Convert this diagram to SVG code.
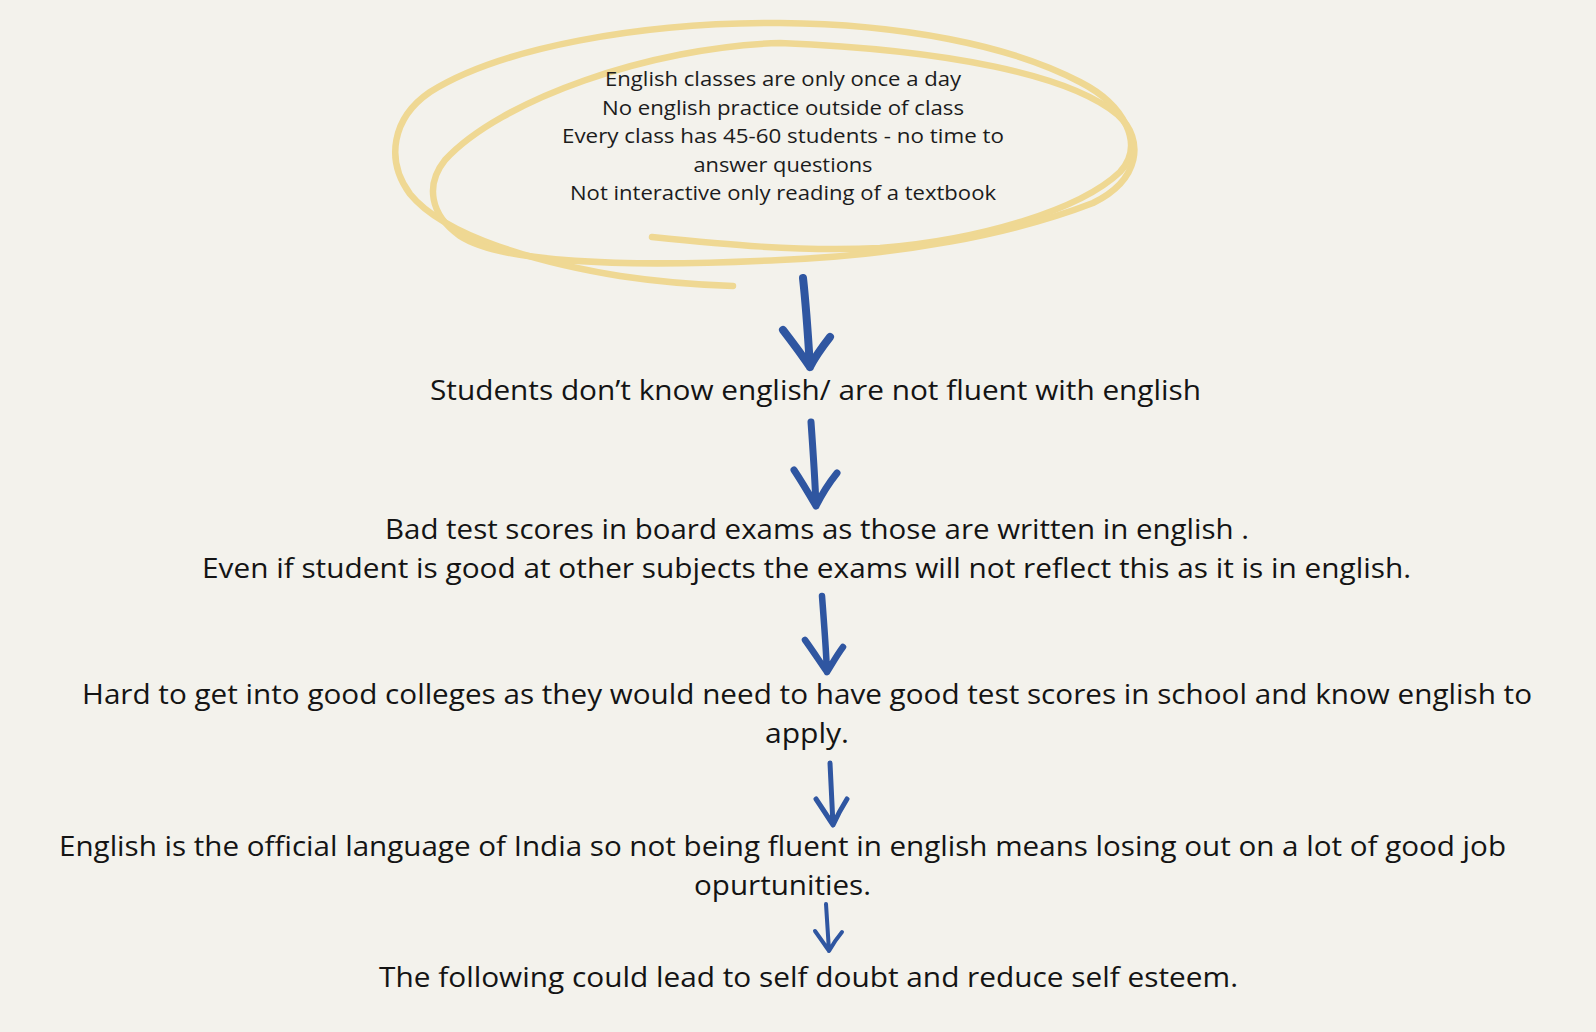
<svg xmlns="http://www.w3.org/2000/svg" width="1596" height="1032" viewBox="0 0 1596 1032">
<defs>
<style>
.bg{fill:#f3f2ec}
.loop{fill:none;stroke:#efd893;stroke-width:6.5;stroke-linecap:round;stroke-linejoin:round}
.arrow{fill:none;stroke:#2f56a1;stroke-linecap:round;stroke-linejoin:round}
.small{font-family:"Open Sans","Noto Sans","Liberation Sans",sans-serif;font-size:20px;fill:#1c1c1c;text-anchor:middle}
.big{font-family:"Open Sans","Noto Sans","Liberation Sans",sans-serif;font-size:27px;fill:#141414;text-anchor:middle}
</style>
</defs>
<rect class="bg" x="0" y="0" width="1596" height="1032"/>
<g id="node-causes">
<path class="loop" d="M652,237 C720,244 800,252 880,248 C980,240 1080,210 1120,172 C1145,145 1125,105 1080,82 C1010,45 900,24 780,23 C640,22 500,48 430,92 C392,118 385,160 410,194 C445,237 540,263 620,276 C660,282 700,285 733,286"/>
<path class="loop" d="M780,43 C650,47 500,100 445,160 C425,185 430,215 460,236 C500,262 620,268 780,260 C900,255 1010,235 1093,203 C1140,180 1145,140 1118,115 C1070,75 950,50 780,43 Z"/>
<text class="small" x="783" y="86" textLength="356" lengthAdjust="spacingAndGlyphs">English classes are only once a day</text>
<text class="small" x="783" y="114.5" textLength="362" lengthAdjust="spacingAndGlyphs">No english practice outside of class</text>
<text class="small" x="783" y="143" textLength="442" lengthAdjust="spacingAndGlyphs">Every class has 45-60 students - no time to</text>
<text class="small" x="783" y="171.5" textLength="179" lengthAdjust="spacingAndGlyphs">answer questions</text>
<text class="small" x="783" y="200" textLength="426" lengthAdjust="spacingAndGlyphs">Not interactive only reading of a textbook</text>
</g>
<g id="node-fluency">
<text class="big" x="815.5" y="400" textLength="771" lengthAdjust="spacingAndGlyphs">Students don’t know english/ are not fluent with english</text>
</g>
<g id="node-scores">
<text class="big" x="817" y="539" textLength="864" lengthAdjust="spacingAndGlyphs">Bad test scores in board exams as those are written in english .</text>
<text class="big" x="806.5" y="578" textLength="1209" lengthAdjust="spacingAndGlyphs">Even if student is good at other subjects the exams will not reflect this as it is in english.</text>
</g>
<g id="node-colleges">
<text class="big" x="807" y="704" textLength="1450" lengthAdjust="spacingAndGlyphs">Hard to get into good colleges as they would need to have good test scores in school and know english to</text>
<text class="big" x="807" y="743" textLength="84" lengthAdjust="spacingAndGlyphs">apply.</text>
</g>
<g id="node-jobs">
<text class="big" x="782.5" y="856" textLength="1447" lengthAdjust="spacingAndGlyphs">English is the official language of India so not being fluent in english means losing out on a lot of good job</text>
<text class="big" x="782.5" y="895" textLength="177" lengthAdjust="spacingAndGlyphs">opurtunities.</text>
</g>
<g id="node-esteem">
<text class="big" x="808.5" y="987" textLength="859" lengthAdjust="spacingAndGlyphs">The following could lead to self doubt and reduce self esteem.</text>
</g>
<g id="connectors">
<path class="arrow" stroke-width="8" d="M803,278 C806,305 808,335 810,367 M783,330 C793,343 802,355 810,367 C816,355 823,346 830,337"/>
<path class="arrow" stroke-width="7" d="M811,422 C813,450 815,478 816,506 M794,470 C802,482 809,494 816,506 C822,494 829,483 837,473"/>
<path class="arrow" stroke-width="6.5" d="M822,596 C824,622 826,648 827,672 M805,640 C813,651 820,662 827,672 C832,664 837,655 843,647"/>
<path class="arrow" stroke-width="5" d="M830,763 C831,784 832,805 833,825 M816,799 C822,808 828,817 833,825 C837,816 842,807 847,799"/>
<path class="arrow" stroke-width="4" d="M826,904 C827,920 828,936 829,951 M815,931 C820,938 825,945 829,951 C833,944 837,938 842,932"/>
</g>
</svg>
